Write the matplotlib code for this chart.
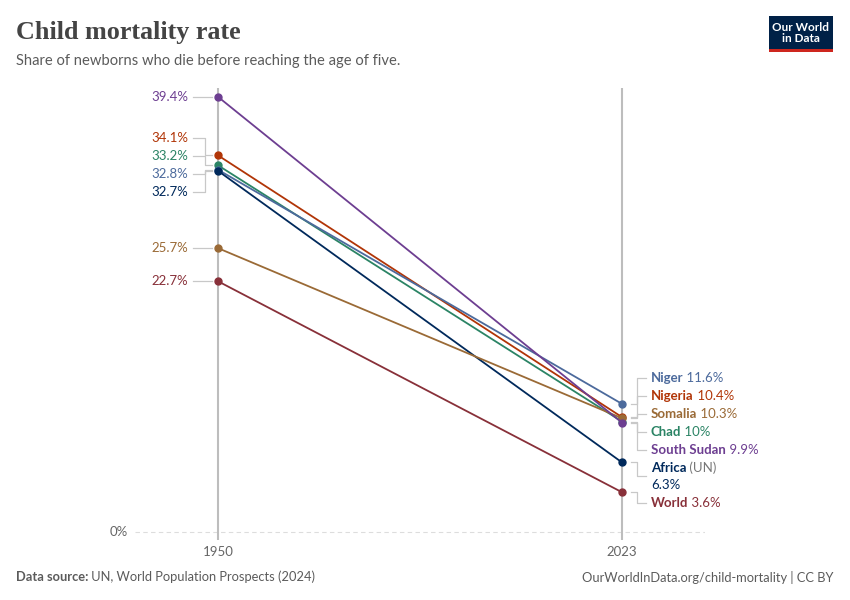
import matplotlib.pyplot as plt
from matplotlib.patches import Rectangle

plt.rcParams['font.family'] = ['Lato', 'DejaVu Sans']

# data
countries = ["South Sudan", "Nigeria", "Chad", "Niger", "Africa", "Somalia", "World"]
rate_1950 = [39.4, 34.1, 33.2, 32.8, 32.7, 25.7, 22.7]
rate_2023 = [9.9, 10.4, 10.0, 11.6, 6.3, 10.3, 3.6]
years = [1950, 2023]

colors = {
    "South Sudan": "#6d3e91",
    "Nigeria": "#b13507",
    "Chad": "#2b8465",
    "Niger": "#4c6a9c",
    "Africa": "#00295b",
    "Somalia": "#9a6a36",
    "World": "#883039",
}

W, H = 850, 600
fig = plt.figure(figsize=(W / 100, H / 100), dpi=100)
ax_l, ax_r, ax_t, ax_b = 135, 705, 88, 540   # axes box in pixels
ax = fig.add_axes([ax_l / W, 1 - ax_b / H, (ax_r - ax_l) / W, (ax_b - ax_t) / H])
xmin, xmax = 1935, 2038
ymin, ymax = -0.725, 40.2
ax.set_xlim(xmin, xmax)
ax.set_ylim(ymin, ymax)
for s in ax.spines.values():
    s.set_visible(False)
ax.set_xticks([])
ax.set_yticks([])

xpx = (xmax - xmin) / (ax_r - ax_l)     # years per pixel
ypx = (ymax - ymin) / (ax_b - ax_t)     # percent per pixel

# zero gridline and year lines
ax.axhline(0, color="#dddddd", lw=0.8, ls=(0, (4, 3)), zorder=0)
ax.text(xmin - 7 * xpx, 0, "0%", ha="right", va="center", fontsize=9.5, color="#666666")
for yr in years:
    ax.axvline(yr, color="#bdbdbd", lw=1.5, zorder=1)
    ax.text(yr, ymin - 6 * ypx, str(yr), ha="center", va="top", fontsize=9.5, color="#666666")

for c, a, b in zip(countries, rate_1950, rate_2023):
    z = 4 if c == "South Sudan" else 3
    ax.plot(years, [a, b], color=colors[c], lw=1.3, marker="o", ms=5, zorder=z)


def spread(targets, heights):
    """push labels apart; targets & heights in pixels (downwards)"""
    order = sorted(range(len(targets)), key=lambda i: targets[i])
    groups = []

    def layout(g):
        total = sum(heights[i] for i in g)
        centre = sum(targets[i] * heights[i] for i in g) / total
        return centre - total / 2, centre + total / 2

    for i in order:
        groups.append([i])
        while len(groups) > 1 and layout(groups[-1])[0] < layout(groups[-2])[1]:
            last = groups.pop()
            groups[-1] += last
    pos = [0] * len(targets)
    for g in groups:
        top = layout(g)[0]
        for i in g:
            pos[i] = top + heights[i] / 2
            top += heights[i]
    return pos


def to_px(v):
    return -v / ypx


def to_val(p):
    return -p * ypx


conn = dict(color="#c8c8c8", lw=0.9, zorder=2)

# left labels (1950)
left_pos = spread([to_px(v) for v in rate_1950], [18] * len(countries))
for c, v, p in zip(countries, rate_1950, left_pos):
    ly = to_val(p)
    x0 = years[0]
    ax.plot([x0 - 25 * xpx, x0 - 13 * xpx, x0 - 13 * xpx, x0 - 6 * xpx], [ly, ly, v, v], **conn)
    ax.text(x0 - 30 * xpx, ly, f"{v:g}%", ha="right", va="center", fontsize=9.5, color=colors[c])

# right labels (2023)
heights_r = [35 if c == "Africa" else 18 for c in countries]
right_pos = spread([to_px(v) for v in rate_2023], heights_r)
right_pos = [p + 3 for p in right_pos]
for c, v, p, h in zip(countries, rate_2023, right_pos, heights_r):
    ly = to_val(p)
    x1 = years[1]
    ax.plot([x1 + 9 * xpx, x1 + 15 * xpx, x1 + 15 * xpx, x1 + 24 * xpx], [v, v, ly, ly], **conn)
    tx = x1 + 29 * xpx
    if c == "Africa":
        top_y = to_val(p - 8.5)
        name = ax.text(tx, top_y, "Africa", ha="left", va="center", fontsize=9.5,
                       fontweight="bold", color=colors[c])
        ax.annotate(" (UN)", xy=(1, 0), xycoords=name, ha="left", va="bottom",
                    fontsize=9.5, color="#777777")
        ax.text(tx, to_val(p + 8.5), f"{v:g}%", ha="left", va="center", fontsize=9.5,
                color=colors[c])
    else:
        name = ax.text(tx, ly, c, ha="left", va="center", fontsize=9.5,
                       fontweight="bold", color=colors[c])
        ax.annotate(f" {v:g}%", xy=(1, 0), xycoords=name, ha="left", va="bottom",
                    fontsize=9.5, color=colors[c])

# header
fig.text(16 / W, 1 - 32 / H, "Child mortality rate", ha="left", va="center",
         fontsize=18.8, fontweight="bold", family="Liberation Serif", color="#444444")
fig.text(16 / W, 1 - 61 / H, "Share of newborns who die before reaching the age of five.",
         ha="left", va="center", fontsize=10.65, color="#5b5b5b")

# logo
fig.patches.append(Rectangle((769 / W, 1 - 50 / H), 64 / W, 34 / H, transform=fig.transFigure,
                             facecolor="#002147", edgecolor="none"))
fig.patches.append(Rectangle((769 / W, 1 - 52 / H), 64 / W, 3 / H, transform=fig.transFigure,
                             facecolor="#ce261e", edgecolor="none"))
fig.text(801 / W, 1 - 33 / H, "Our World\nin Data", ha="center", va="center", fontsize=8.5,
         fontweight="bold", color="white", linespacing=1.0)

# footer
src = fig.text(16 / W, 1 - 577 / H, "Data source:", ha="left", va="center", fontsize=9.3,
               fontweight="bold", color="#5b5b5b")
ax.annotate(" UN, World Population Prospects (2024)", xy=(1, 0), xycoords=src, ha="left",
            va="bottom", fontsize=9.3, color="#5b5b5b", annotation_clip=False)
fig.text(834 / W, 1 - 577 / H, "OurWorldInData.org/child-mortality | CC BY", ha="right",
         va="center", fontsize=9.3, color="#5b5b5b")

fig.savefig("out.png", dpi=100)
